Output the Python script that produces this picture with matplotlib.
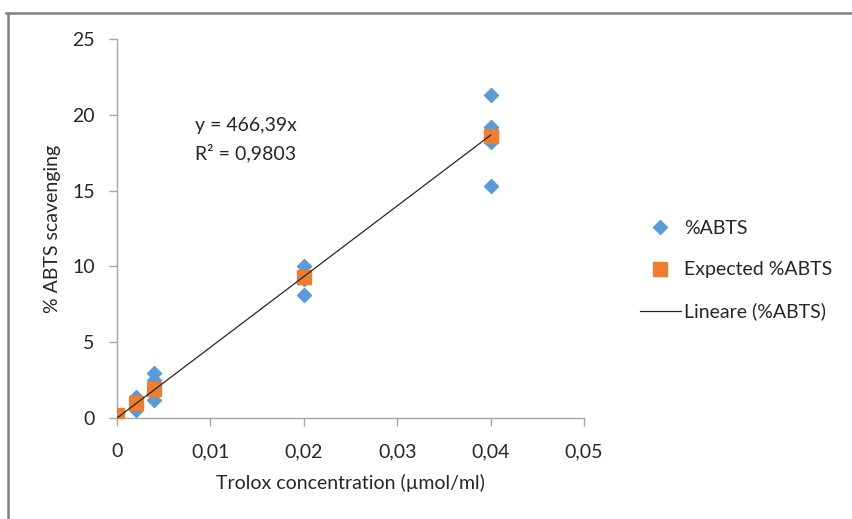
import matplotlib
matplotlib.use("Agg")
import matplotlib.pyplot as plt
from matplotlib.lines import Line2D
from matplotlib.ticker import FuncFormatter, MultipleLocator

plt.rcParams['font.family'] = ['Lato', 'DejaVu Sans']

# Data
abts_x = [0, 0.002, 0.002, 0.004, 0.004, 0.004, 0.02, 0.02, 0.02,
          0.04, 0.04, 0.04, 0.04]
abts_y = [0.0, 1.4, 0.5, 3.0, 2.5, 1.2, 10.0, 9.2, 8.1,
          21.3, 19.2, 18.2, 15.3]
expected_x = [0, 0.002, 0.004, 0.02, 0.04]
expected_y = [0.2, 1.0, 1.9, 9.3, 18.6]
slope = 466.39
fit_x = [0, 0.04]
fit_y = [slope * v for v in fit_x]

FS = 14

fig = plt.figure(figsize=(8.52, 5.19), dpi=100)
ax = fig.add_axes([117/852, 1 - 418/519, (584-117)/852, (418-39)/519])

ax.plot(abts_x, abts_y, linestyle='none', marker='D', markersize=7.5,
        color='#5B9BD5', label='%ABTS', zorder=3)
ax.plot(expected_x, expected_y, linestyle='none', marker='s', markersize=10,
        color='#ED7D31', label='Expected %ABTS', zorder=4)
ax.plot(fit_x, fit_y, color='#262626', linewidth=0.9,
        label='Lineare (%ABTS)', zorder=5)

ax.set_xlim(0, 0.05)
ax.set_ylim(0, 25)
ax.xaxis.set_major_locator(MultipleLocator(0.01))
ax.yaxis.set_major_locator(MultipleLocator(5))

def fmt(v, pos):
    if abs(v) < 1e-12:
        return '0'
    s = ('%.2f' % v).rstrip('0').rstrip('.') if v < 1 else '%g' % v
    return s.replace('.', ',')

ax.xaxis.set_major_formatter(FuncFormatter(fmt))
ax.yaxis.set_major_formatter(FuncFormatter(fmt))

for s in ['top', 'right']:
    ax.spines[s].set_visible(False)
for s in ['left', 'bottom']:
    ax.spines[s].set_color('#A6A6A6')
    ax.spines[s].set_linewidth(1.0)
ax.tick_params(axis='both', colors='#A6A6A6', labelcolor='#262626',
               labelsize=FS, length=6, width=1.0, direction='out')
ax.tick_params(axis='x', pad=12)
ax.tick_params(axis='y', pad=10)

ax.set_xlabel('Trolox concentration (µmol/ml)', fontsize=FS,
              color='#262626', labelpad=10)
ax.set_ylabel('% ABTS scavenging', fontsize=FS, color='#262626', labelpad=8)

ax.text(0.0083, 19.3, 'y = 466,39x', fontsize=FS, color='#262626', va='center')
ax.text(0.0083, 17.45, 'R² = 0,9803', fontsize=FS, color='#262626', va='center')

leg = fig.legend(loc='upper left', bbox_to_anchor=(640/852, 1 - 220/519),
                 frameon=False, fontsize=FS, labelspacing=1.25,
                 handlelength=2.1, handletextpad=0.15, borderpad=0.0,
                 borderaxespad=0.0)
for t in leg.get_texts():
    t.set_color('#262626')

# outer chart frame (top and left edges visible)
fig.add_artist(Line2D([6/852, 1.0], [1 - 13/519, 1 - 13/519],
                      transform=fig.transFigure, color='#7F7F7F', linewidth=1.8))
fig.add_artist(Line2D([8/852, 8/852], [0, 1 - 13/519],
                      transform=fig.transFigure, color='#7F7F7F', linewidth=1.8))

fig.savefig('out.png', dpi=100)
